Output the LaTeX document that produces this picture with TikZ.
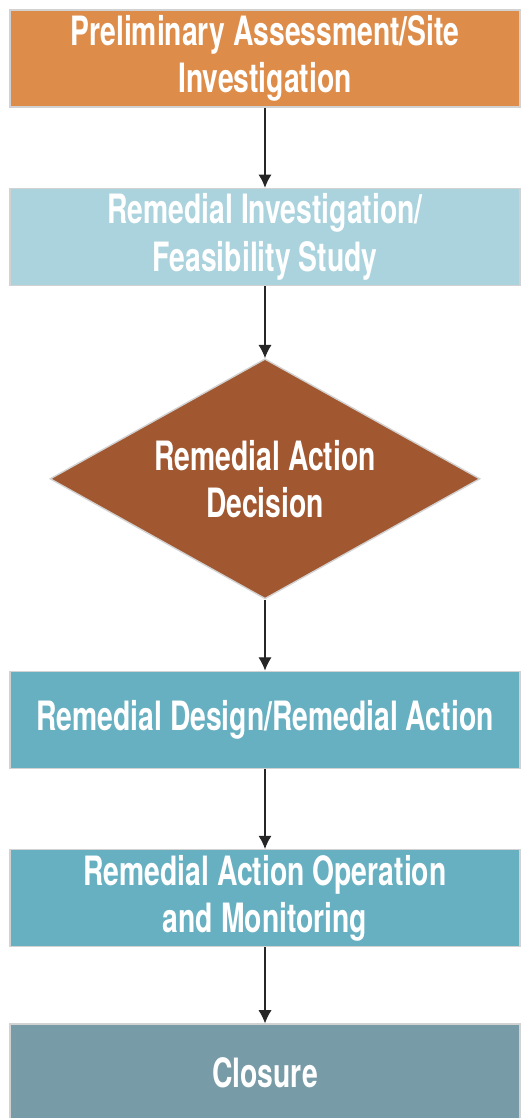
\documentclass[tikz,border=0pt]{standalone}
\usepackage{fontspec}
\setmainfont{TeX Gyre Heros}[FakeStretch=0.7]
\usetikzlibrary{positioning,shapes.geometric,arrows.meta}

\definecolor{paorange}{HTML}{DD8C4A}
\definecolor{rilight}{HTML}{AAD3DE}
\definecolor{rdbrown}{HTML}{A1572F}
\definecolor{rateal}{HTML}{67B0C2}
\definecolor{closegrey}{HTML}{789BA8}
\definecolor{edgegrey}{HTML}{D2D2D2}

\tikzset{
    stagetext/.style={align=center, text=white, font=\fontsize{23}{26.8}\selectfont\bfseries},
    stagebox/.style={stagetext, draw=edgegrey, line width=0.8pt, minimum width=10.2cm, minimum height=1.94cm,
        inner sep=0pt},
    decisionbox/.style={diamond, draw=edgegrey, line width=0.8pt, fill=rdbrown, minimum width=8.6cm,
        minimum height=4.8cm, inner sep=0pt},
    flowarrow/.style={-{Latex[length=7.5pt,width=7.5pt]}, line width=0.6pt, black!85}
}

\begin{document}
\begin{tikzpicture}
    \useasboundingbox (0,0) rectangle (10.58,-22.36);
    % stages
    \node[stagebox, fill=paorange] (pasi) at (5.3,-1.17) {Preliminary Assessment/Site\\Investigation};
    \node[stagebox, fill=rilight, below=1.6cm of pasi] (rifs) {Remedial Investigation/\\Feasibility Study};
    \node[decisionbox, below=1.44cm of rifs,
        label={[stagetext]center:Remedial Action\\Decision}] (decision) {};
    \node[stagebox, fill=rateal, below=1.42cm of decision] (rdra) {Remedial Design/Remedial Action};
    \node[stagebox, fill=rateal, below=1.6cm of rdra] (raom) {Remedial Action Operation\\and Monitoring};
    \node[stagebox, fill=closegrey, below=1.52cm of raom] (closure) {Closure};
    % arrows
    \draw[flowarrow] (pasi) -- (rifs);
    \draw[flowarrow] (rifs) -- (decision);
    \draw[flowarrow] (decision) -- (rdra);
    \draw[flowarrow] (rdra) -- (raom);
    \draw[flowarrow] (raom) -- (closure);
\end{tikzpicture}
\end{document}
